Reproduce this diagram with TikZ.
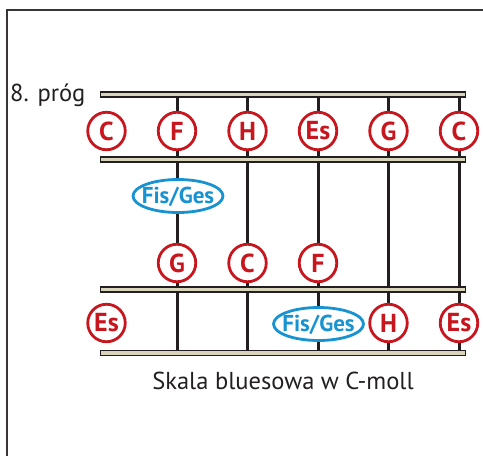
\documentclass[tikz,border=0pt]{standalone}
\usepackage{fontspec}
\setmainfont{PT Sans}
\usetikzlibrary{shapes.geometric}
\definecolor{notered}{HTML}{C8161E}
\definecolor{noteblue}{HTML}{1893D2}
\definecolor{fretfill}{HTML}{D9D5BD}
\definecolor{ink}{HTML}{231F20}
\newcommand{\bluetext}[1]{\makebox[0pt]{\smash{\raisebox{-0.45\height}{#1}}}}
\tikzset{
  note/.style={circle, draw=notered, line width=2.8pt, fill=white, text=notered,
    minimum size=37.5pt, inner sep=0pt, font=\fontsize{26}{26}\selectfont\bfseries},
  blue note/.style={ellipse, draw=noteblue, line width=2.8pt, fill=white, text=noteblue,
    minimum width=90pt, minimum height=33pt, inner sep=0pt, font=\fontsize{23}{23}\selectfont\bfseries},
  fretbar/.style={draw=ink, fill=fretfill, line width=1.4pt},
  stringline/.style={draw=ink, line width=3pt},
  frame/.style={draw=ink!90, line width=2.4pt},
  label text/.style={text=ink, font=\fontsize{24.5}{24.5}\selectfont, inner sep=0pt}
}
\begin{document}
\begin{tikzpicture}[x=1pt,y=-1pt]
\useasboundingbox (0,0) rectangle (483,456);
% frame
\draw[frame] (7,460) -- (7,10) -- (490,10);
% string coordinates
\foreach \n/\x in {2/177,3/247.5,4/318,5/388.5,6/459}{
  \coordinate (s\n t) at (\x,94.5);
  \coordinate (s\n b) at (\x,356);
}
\foreach \n in {2,...,6}{ \draw[stringline] (s\n t) -- (s\n b); }
% frets
\foreach \n/\y in {1/94.5,2/159.5,3/289.5,4/353}{
  \draw[fretbar] (100.5,\y-2.6) rectangle (465.5,\y+2.6);
}
% row 1
\node[note] (r1c1) at (106.5,131) {C};
\node[note] (r1c2) at (177,131) {F};
\node[note] (r1c3) at (247.5,131) {H};
\node[note] (r1c4) at (318,131) {Es};
\node[note] (r1c5) at (388.5,131) {G};
\node[note] (r1c6) at (459,131) {C};
% blue note
\node[blue note] (b1) at (178,196) {\bluetext{Fis/Ges}};
% row 2
\node[note] (r2c2) at (177,263) {G};
\node[note] (r2c3) at (247.5,263) {C};
\node[note] (r2c4) at (318,263) {F};
% row 3
\node[note] (r3c1) at (106.5,323) {Es};
\node[blue note] (b2) at (318.5,324) {\bluetext{Fis/Ges}};
\node[note] (r3c5) at (388.5,323) {H};
\node[note] (r3c6) at (459,323) {Es};
% labels
\node[label text, anchor=base west] (fretlabel) at (10,101) {8. próg};
\node[label text, anchor=base] (caption) at (283,389) {Skala bluesowa w C-moll};
\end{tikzpicture}
\end{document}
